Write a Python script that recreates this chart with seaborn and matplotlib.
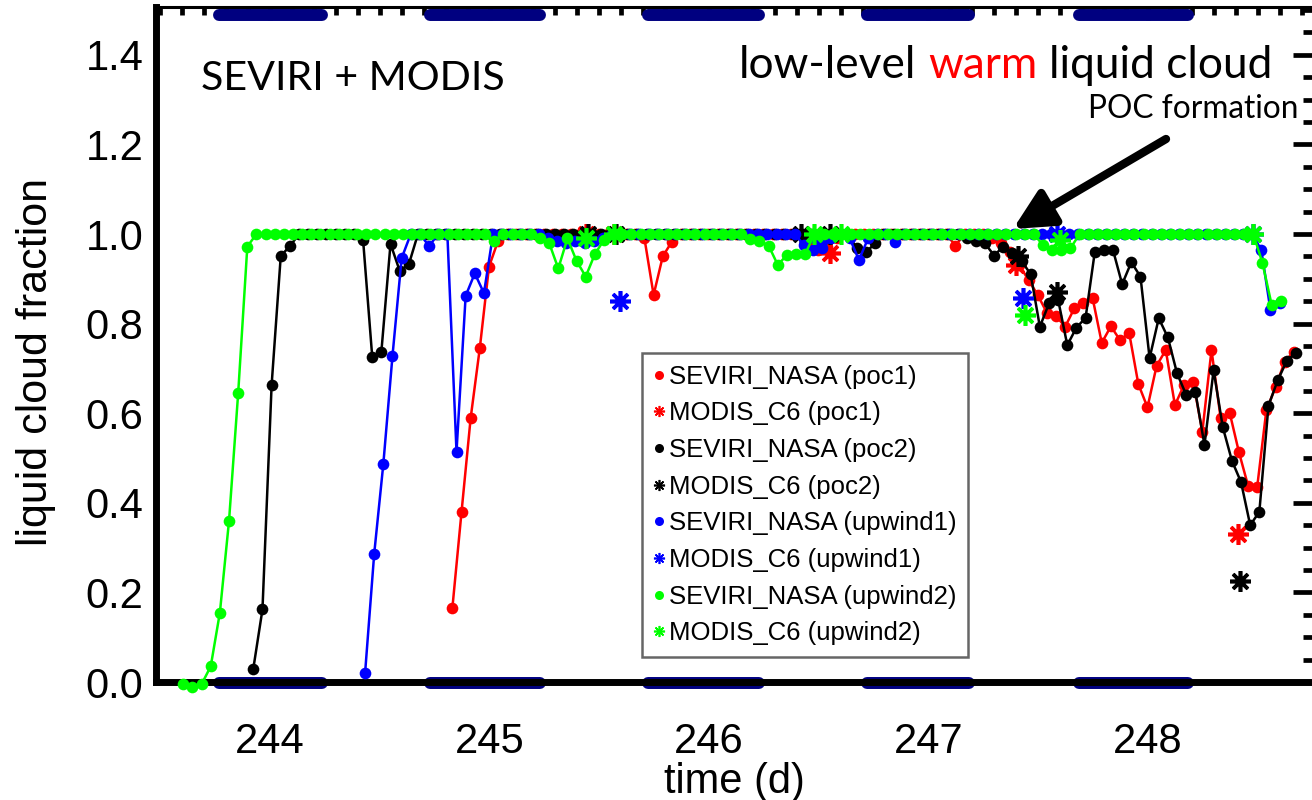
import numpy as np
import matplotlib
matplotlib.use("Agg")
import matplotlib.pyplot as plt
from matplotlib.lines import Line2D
from matplotlib.ticker import MultipleLocator, FormatStrFormatter
import seaborn as sns

# ---------------- data ----------------
# hourly SEVIRI series: start time (day) of each series
start_poc1 = 244.831
start_poc2 = 243.924
start_upwind1 = 244.433
start_upwind2 = 243.605
hours_per_day = 24.0

seviri_poc1 = [
    0.166, 0.38, 0.59, 0.746, 0.927, 0.985,
    1.0, 1.0, 1.0, 1.0, 1.0, 1.0, 1.0, 1.0, 1.0, 1.0, 1.0, 1.0, 1.0, 1.0, 1.0,
    0.99, 0.864, 0.95, 0.983,
    1.0, 1.0, 1.0, 1.0, 1.0, 1.0, 1.0, 1.0, 1.0, 1.0, 1.0, 1.0, 1.0, 1.0,
    0.975, 0.965, 0.97, 0.99,
    1.0, 1.0, 1.0, 1.0, 1.0, 1.0, 1.0, 1.0, 1.0, 1.0, 1.0, 1.0,
    0.974,
    1.0, 1.0, 1.0,
    0.99, 0.98, 0.96, 0.93, 0.897, 0.864, 0.824, 0.817, 0.793, 0.834,
    0.846, 0.857, 0.757, 0.794, 0.763, 0.779, 0.665, 0.613, 0.706, 0.741,
    0.618, 0.663, 0.67, 0.559, 0.741, 0.589, 0.6, 0.513, 0.438, 0.436,
    0.607, 0.658, 0.715, 0.737,
]

seviri_poc2 = [
    0.03, 0.162, 0.663, 0.951, 0.973,
    1.0, 1.0, 1.0, 1.0, 1.0, 1.0, 1.0,
    0.987, 0.726, 0.737, 0.978, 0.918, 0.932,
    1.0, 1.0, 1.0, 1.0, 1.0, 1.0, 1.0, 1.0, 1.0, 1.0,
    1.0, 1.0, 1.0, 1.0, 1.0, 1.0, 1.0, 1.0, 1.0, 1.0,
    1.0, 1.0, 1.0, 1.0, 1.0, 1.0, 1.0, 1.0, 1.0, 1.0,
    1.0, 1.0, 1.0, 1.0, 1.0, 1.0, 1.0, 1.0, 1.0, 1.0,
    1.0, 1.0, 1.0, 1.0, 1.0, 1.0, 1.0, 1.0,
    0.968, 0.96, 0.979,
    1.0, 1.0, 1.0, 1.0, 1.0, 1.0, 1.0, 1.0, 1.0,
    0.99, 0.985,
    0.979, 0.952, 0.972, 0.957, 0.94, 0.91, 0.793, 0.845, 0.853, 0.752,
    0.791, 0.813, 0.959, 0.964, 0.964, 0.888, 0.937, 0.905, 0.723, 0.812,
    0.769, 0.689, 0.641, 0.648, 0.529, 0.696, 0.569, 0.494, 0.446, 0.35,
    0.38, 0.617, 0.673, 0.717, 0.735,
]

seviri_upwind1 = [
    0.019, 0.286, 0.487, 0.728, 0.946, 1.0, 1.0, 0.973, 1.0, 1.0,
    0.514, 0.862, 0.912, 0.868,
    1.0, 1.0, 1.0, 1.0, 1.0, 1.0,
    0.99, 0.985, 0.98, 0.985, 0.98, 0.985, 0.99,
    1.0, 1.0, 1.0, 1.0, 1.0, 1.0, 1.0, 1.0, 1.0, 1.0,
    1.0, 1.0, 1.0, 1.0, 1.0, 1.0, 1.0, 1.0, 1.0, 1.0, 1.0,
    0.975, 0.964, 0.968, 0.99, 1.0, 0.99, 0.942, 0.99, 1.0, 1.0, 0.983,
    1.0, 1.0, 1.0, 1.0, 1.0, 1.0, 1.0, 1.0, 1.0, 1.0,
    1.0, 1.0, 1.0, 1.0, 1.0, 1.0, 1.0, 1.0, 1.0, 1.0,
    1.0, 1.0, 1.0, 1.0, 1.0, 1.0, 1.0, 1.0, 1.0, 1.0,
    1.0, 1.0, 1.0, 1.0, 1.0, 1.0, 1.0, 1.0, 1.0,
    0.964, 0.83, 0.845,
]

seviri_upwind2 = [
    -0.005, -0.012, -0.005, 0.035, 0.155, 0.36, 0.645, 0.972,
    1.0, 1.0, 1.0, 1.0, 1.0, 1.0, 1.0, 1.0, 1.0, 1.0,
    1.0, 1.0, 1.0, 1.0, 1.0, 1.0, 1.0, 1.0, 1.0, 1.0,
    1.0, 1.0, 1.0, 1.0, 1.0, 1.0,
    0.985,
    1.0, 1.0, 1.0, 1.0,
    0.99, 0.98, 0.923, 0.99, 0.94, 0.905, 0.955, 0.987,
    1.0, 1.0, 1.0, 1.0, 1.0, 1.0, 1.0, 1.0, 1.0, 1.0, 1.0, 1.0, 1.0, 1.0, 1.0,
    0.988, 0.985, 0.974, 0.931, 0.953, 0.955, 0.955,
    1.0, 1.0, 1.0, 1.0, 1.0, 1.0, 1.0, 1.0, 1.0, 1.0,
    1.0, 1.0, 1.0, 1.0, 1.0, 1.0, 1.0, 1.0, 1.0, 1.0,
    1.0, 1.0, 1.0, 1.0, 1.0,
    0.975, 0.965, 0.965, 0.968,
    1.0, 1.0, 1.0, 1.0, 1.0, 1.0, 1.0, 1.0, 1.0, 1.0,
    1.0, 1.0, 1.0, 1.0, 1.0, 1.0, 1.0, 1.0, 1.0, 1.0,
    0.935, 0.842, 0.85,
]

# MODIS C6 overpass values
modis_poc1_t = [245.44, 245.565, 246.55, 247.40, 248.41]
modis_poc1_v = [1.0, 1.0, 0.957, 0.93, 0.33]
modis_poc2_t = [245.45, 245.575, 246.42, 246.55, 247.41, 247.585, 248.42]
modis_poc2_v = [1.0, 1.0, 1.0, 1.0, 0.95, 0.871, 0.225]
modis_upwind1_t = [245.595, 246.50, 247.43, 247.585, 248.48]
modis_upwind1_v = [0.85, 0.985, 0.857, 1.0, 1.0]
modis_upwind2_t = [245.44, 245.565, 246.48, 246.60, 247.44, 247.60, 248.48]
modis_upwind2_v = [0.99, 1.0, 1.0, 1.0, 0.82, 0.987, 1.0]

# night-time periods (navy bars at top and bottom)
night_start = [243.768, 244.727, 245.721, 246.722, 247.685]
night_end = [244.235, 245.229, 246.230, 247.183, 248.184]

xtick_values = [244, 245, 246, 247, 248]
ytick_values = [0.0, 0.2, 0.4, 0.6, 0.8, 1.0, 1.2, 1.4]

series_labels = [
    "SEVIRI_NASA (poc1)", "MODIS_C6 (poc1)",
    "SEVIRI_NASA (poc2)", "MODIS_C6 (poc2)",
    "SEVIRI_NASA (upwind1)", "MODIS_C6 (upwind1)",
    "SEVIRI_NASA (upwind2)", "MODIS_C6 (upwind2)",
]

# ---------------- style ----------------
sns.set_style("white")
plt.rcParams["font.family"] = ["Liberation Sans", "DejaVu Sans"]
for key in ["text.color", "axes.labelcolor", "xtick.color", "ytick.color",
            "axes.edgecolor"]:
    plt.rcParams[key] = "black"

W, H = 1312, 800
AX_L, AX_R, AX_T, AX_B = 156, 1312, 7, 682

fig = plt.figure(figsize=(W / 100, H / 100), dpi=100)
ax = fig.add_axes([AX_L / W, 1 - AX_B / H, (AX_R - AX_L) / W, (AX_B - AX_T) / H])

RED, BLACK, BLUE, GREEN, NAVY = "#ff0000", "#000000", "#0000ff", "#00ff00", "#000080"
AST = (8, 2, 0)

groups = [
    (start_poc1, seviri_poc1, modis_poc1_t, modis_poc1_v, RED),
    (start_poc2, seviri_poc2, modis_poc2_t, modis_poc2_v, BLACK),
    (start_upwind1, seviri_upwind1, modis_upwind1_t, modis_upwind1_v, BLUE),
    (start_upwind2, seviri_upwind2, modis_upwind2_t, modis_upwind2_v, GREEN),
]

z = 3
for t0, vals, mt, mv, col in groups:
    tt = t0 + np.arange(len(vals)) / hours_per_day
    sns.lineplot(x=tt, y=np.array(vals), ax=ax, color=col, sort=False, estimator=None,
                 linewidth=1.8, marker="o", markersize=8.4, markeredgewidth=0,
                 markeredgecolor=col, legend=False, zorder=z, clip_on=False)
    sns.lineplot(x=np.array(mt), y=np.array(mv), ax=ax, color=col, sort=False, estimator=None,
                 linestyle="", marker=AST, markersize=15, markeredgewidth=2.6,
                 markeredgecolor=col, legend=False, zorder=z + 0.5)
    z += 1

# night bars
for s, e in zip(night_start, night_end):
    ax.plot([s, e], [-0.002, -0.002], color=NAVY, lw=8.6, solid_capstyle="round",
            clip_on=False, zorder=2.5)
    ax.plot([s, e], [1.4888, 1.4888], color=NAVY, lw=8.6, solid_capstyle="round",
            clip_on=False, zorder=2.5)

ax.set_xlim(243.4806, 248.7472)
ax.set_ylim(0.0, 1.5067)
ax.set_xticks(xtick_values)
ax.set_yticks(ytick_values)
ax.xaxis.set_minor_locator(MultipleLocator(0.1))
ax.yaxis.set_minor_locator(MultipleLocator(0.05))
ax.yaxis.set_major_formatter(FormatStrFormatter("%.1f"))
ax.set_xlabel("")
ax.set_ylabel("")

ax.tick_params(axis="both", which="both", direction="in", top=True, right=True,
               color="black", labelcolor="black")
ax.tick_params(axis="y", which="major", length=14, width=3.4, pad=9, labelsize=30)
ax.tick_params(axis="y", which="minor", length=6.5, width=3.4)
ax.tick_params(axis="x", which="major", length=9, width=3.4, pad=29, labelsize=30)
ax.tick_params(axis="x", which="minor", length=5.5, width=3.4)

for side, lw in [("left", 5), ("bottom", 5), ("top", 2.2)]:
    ax.spines[side].set_linewidth(lw)
    ax.spines[side].set_color("black")
ax.spines["right"].set_visible(False)

# axis titles
fig.text(734 / W, 1 - 782 / H, "time (d)", ha="center", va="center", fontsize=30)
fig.text(36 / W, 1 - 362 / H, "liquid cloud fraction", ha="center", va="center",
         rotation=90, fontsize=31)

# legend (box fitted to the reference box: x 642-968, y 353-657 px)
handles = []
for col in [RED, BLACK, BLUE, GREEN]:
    handles.append(Line2D([], [], color=col, linestyle="", marker="o", markersize=6.5,
                          markeredgewidth=0))
    handles.append(Line2D([], [], color=col, linestyle="", marker=AST, markersize=8,
                          markeredgewidth=1.2))

renderer = fig.canvas.get_renderer()
LEG_FS = 18.5
fs_px = LEG_FS * 100 / 72


def make_legend(spacing):
    lg = ax.legend(handles, series_labels, loc="upper left",
                   bbox_to_anchor=(642 / W, 1 - 353 / H), bbox_transform=fig.transFigure,
                   borderaxespad=0, frameon=True, fancybox=False, framealpha=1,
                   edgecolor="#666666", fontsize=LEG_FS, handlelength=0.4,
                   handletextpad=0.2, borderpad=0.45, labelspacing=spacing)
    lg.get_frame().set_linewidth(1.8)
    lg.set_zorder(20)
    return lg


spacing = 0.4
leg = make_legend(spacing)
for _ in range(3):
    h = leg.get_window_extent(renderer).height
    spacing = spacing + (304 - h) / (7 * fs_px)
    leg.remove()
    leg = make_legend(spacing)

# annotation texts (Calibri-like look)
FAM = ["Lato", "DejaVu Sans"]


def width_px(s, size):
    t = fig.text(0, 0, s, fontsize=size, family=FAM)
    w = t.get_window_extent(renderer).width
    t.remove()
    return w


fs1 = 30 * 303 / width_px("SEVIRI + MODIS", 30)
fig.text(201 / W, 1 - 90 / H, "SEVIRI + MODIS", fontsize=fs1, family=FAM,
         ha="left", va="baseline")

full = "low-level warm liquid cloud"
fs2 = 30 * 532 / width_px(full, 30)
space = width_px("l l", fs2) - width_px("ll", fs2)
x = 1272 - width_px(full, fs2)
for piece, col in [("low-level", "black"), ("warm", RED), ("liquid cloud", "black")]:
    t = fig.text(x / W, 1 - 78 / H, piece, fontsize=fs2, family=FAM, color=col,
                 ha="left", va="baseline")
    x += t.get_window_extent(renderer).width + space

fs3 = 30 * 210 / width_px("POC formation", 30)
fig.text(1298 / W, 1 - 118 / H, "POC formation", fontsize=fs3, family=FAM,
         ha="right", va="baseline")

# arrow
ax.annotate("", xy=(1013 / W, 1 - 229 / H), xytext=(1166 / W, 1 - 139 / H),
            xycoords="figure fraction", textcoords="figure fraction",
            arrowprops=dict(arrowstyle="-|>,head_length=0.6,head_width=0.3",
                            mutation_scale=40, lw=6, color="black",
                            shrinkA=0, shrinkB=0), zorder=15)

fig.savefig("out.png", dpi=100)
